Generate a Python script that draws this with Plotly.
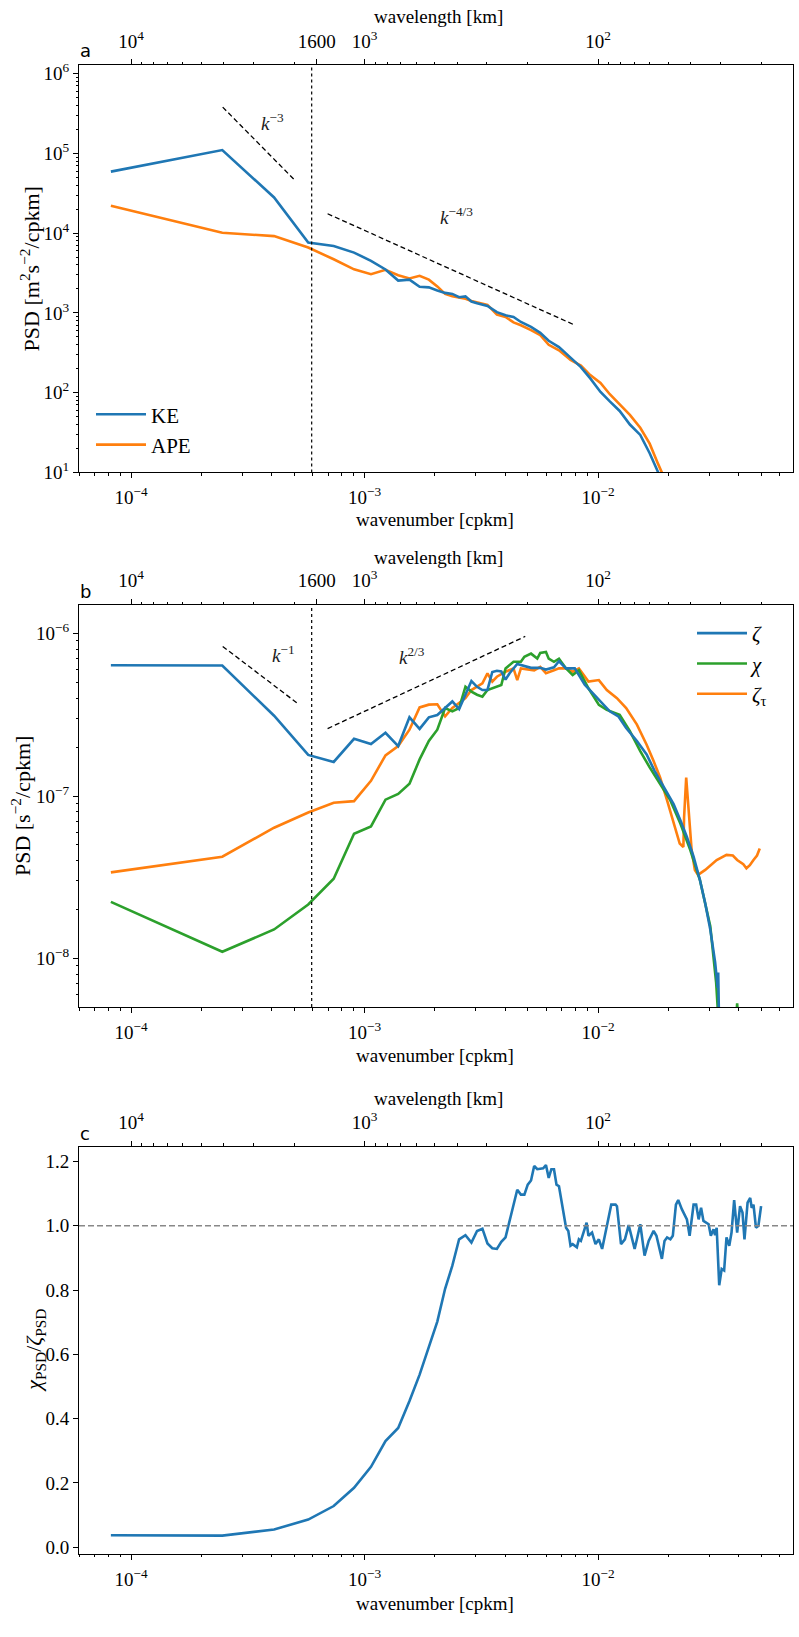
import plotly.graph_objects as go

# ---------------- data ----------------
# panel a : KE / APE spectra
k_a = [8.2e-5, 2.46e-4, 4.10e-4, 5.74e-4, 7.38e-4, 9.02e-4, 1.066e-3, 1.230e-3, 1.394e-3,
       1.558e-3, 1.722e-3, 1.886e-3, 2.050e-3, 2.214e-3, 2.378e-3, 2.542e-3, 2.706e-3,
       2.870e-3, 3.034e-3, 3.362e-3, 3.690e-3, 4.018e-3, 4.346e-3, 4.674e-3, 5.166e-3,
       5.658e-3, 6.150e-3, 6.806e-3, 7.626e-3, 8.446e-3, 9.266e-3, 1.025e-2, 1.1234e-2,
       1.2382e-2, 1.3694e-2, 1.517e-2, 1.6646e-2, 1.8122e-2, 1.9762e-2]
ke_a = [5.9e4, 1.1e5, 2.8e4, 7.6e3, 6.9e3, 5.7e3, 4.5e3, 3.5e3, 2.54e3, 2.61e3, 2.13e3,
        2.09e3, 1.91e3, 1.78e3, 1.73e3, 1.57e3, 1.61e3, 1.39e3, 1.32e3, 1.22e3, 1.02e3,
        933, 887, 769, 667, 562, 447, 372, 275, 209, 151, 102, 77.6, 58.9, 39.8, 29.5,
        17.4, 10.0, 5.6]
ape_a = [2.2e4, 1.01e4, 9.18e3, 6.6e3, 4.7e3, 3.52e3, 3.06e3, 3.47e3, 2.97e3, 2.7e3,
         2.92e3, 2.61e3, 2.15e3, 1.73e3, 1.62e3, 1.57e3, 1.5e3, 1.41e3, 1.36e3, 1.26e3,
         955, 891, 759, 700, 607, 525, 398, 339, 257, 219, 166, 132, 95.5, 70.8, 52.5,
         36.3, 22.9, 12.6, 7.1]

# panel b : zeta, chi, zeta_tau spectra
k_zeta = [8.2e-5, 2.46e-4, 4.10e-4, 5.74e-4, 7.38e-4, 9.02e-4, 1.066e-3, 1.230e-3, 1.394e-3,
          1.558e-3, 1.722e-3, 1.886e-3, 2.050e-3, 2.214e-3, 2.378e-3, 2.542e-3, 2.706e-3,
          2.870e-3, 3.034e-3, 3.198e-3, 3.362e-3, 3.526e-3, 3.690e-3, 3.854e-3, 4.018e-3,
          4.182e-3, 4.510e-3, 4.838e-3, 5.166e-3, 5.658e-3, 5.986e-3, 6.478e-3, 6.806e-3,
          7.298e-3, 7.954e-3, 8.774e-3, 1.0086e-2, 1.1234e-2, 1.2218e-2, 1.3202e-2,
          1.4678e-2, 1.6154e-2, 1.7466e-2, 1.9106e-2, 2.1074e-2, 2.2550e-2, 2.4026e-2,
          2.5666e-2, 2.7306e-2, 2.8782e-2, 3.0258e-2, 3.1734e-2, 3.2554e-2, 3.2718e-2,
          3.2882e-2, 3.3046e-2]
zeta_b = [6.38e-7, 6.35e-7, 3.12e-7, 1.79e-7, 1.62e-7, 2.25e-7, 2.09e-7, 2.45e-7, 2.03e-7,
          3.05e-7, 2.59e-7, 3.05e-7, 3.15e-7, 3.5e-7, 3.82e-7, 3.43e-7, 4.2e-7, 5.1e-7,
          4.7e-7, 4.49e-7, 4.5e-7, 5.8e-7, 5.9e-7, 5.85e-7, 5.2e-7, 5.7e-7, 6.5e-7, 6.3e-7,
          6.15e-7, 6.15e-7, 6.0e-7, 6.2e-7, 6.75e-7, 6.1e-7, 6.1e-7, 4.85e-7, 3.9e-7,
          3.32e-7, 3.09e-7, 2.62e-7, 2.18e-7, 1.8e-7, 1.43e-7, 1.13e-7, 8.93e-8, 7.08e-8,
          5.6e-8, 4.23e-8, 3.05e-8, 2.19e-8, 1.51e-8, 9.5e-9, 6.6e-9, 8.2e-9, 5.5e-9, 3.5e-9]

k_chi = [8.2e-5, 2.46e-4, 4.10e-4, 5.74e-4, 7.38e-4, 9.02e-4, 1.066e-3, 1.230e-3, 1.394e-3,
         1.558e-3, 1.722e-3, 1.886e-3, 2.050e-3, 2.214e-3, 2.378e-3, 2.542e-3, 2.706e-3,
         2.870e-3, 3.034e-3, 3.198e-3, 3.362e-3, 3.690e-3, 3.854e-3, 4.018e-3, 4.346e-3,
         4.674e-3, 4.838e-3, 5.166e-3, 5.494e-3, 5.658e-3, 5.986e-3, 6.150e-3, 6.478e-3,
         6.806e-3, 7.134e-3, 7.298e-3, 7.790e-3, 8.282e-3, 9.102e-3, 1.0086e-2, 1.0906e-2,
         1.2382e-2, 1.3694e-2, 1.517e-2, 1.6646e-2, 1.845e-2, 2.0418e-2, 2.255e-2,
         2.4846e-2, 2.7306e-2, 3.0258e-2, 3.2062e-2, 3.3046e-2, 3.7802e-2, 3.9442e-2,
         4.1082e-2]
chi_b = [2.23e-8, 1.10e-8, 1.51e-8, 2.15e-8, 3.1e-8, 5.86e-8, 6.5e-8, 9.5e-8, 1.03e-7,
         1.19e-7, 1.68e-7, 2.18e-7, 2.56e-7, 3.48e-7, 3.32e-7, 3.48e-7, 4.71e-7, 4.39e-7,
         4.2e-7, 4.09e-7, 4.49e-7, 4.7e-7, 4.82e-7, 6.1e-7, 6.7e-7, 6.7e-7, 7.2e-7, 7.52e-7,
         7.01e-7, 7.6e-7, 7.7e-7, 7.0e-7, 6.7e-7, 7.0e-7, 6.3e-7, 6.1e-7, 5.55e-7, 5.94e-7,
         4.6e-7, 3.64e-7, 3.39e-7, 3.16e-7, 2.51e-7, 1.89e-7, 1.5e-7, 1.18e-7, 9.4e-8,
         6.75e-8, 4.65e-8, 3.05e-8, 1.58e-8, 7.1e-9, 3.5e-9, 2.0e-9, 5.3e-9, 2.0e-9]

k_tau = [8.2e-5, 2.46e-4, 4.10e-4, 5.74e-4, 7.38e-4, 9.02e-4, 1.066e-3, 1.230e-3, 1.394e-3,
         1.558e-3, 1.722e-3, 1.886e-3, 2.050e-3, 2.214e-3, 2.378e-3, 2.542e-3, 2.706e-3,
         2.870e-3, 3.034e-3, 3.198e-3, 3.362e-3, 3.526e-3, 3.690e-3, 4.018e-3, 4.346e-3,
         4.510e-3, 4.674e-3, 5.002e-3, 5.330e-3, 5.658e-3, 5.986e-3, 6.478e-3, 6.806e-3,
         7.298e-3, 7.790e-3, 8.282e-3, 8.610e-3, 9.102e-3, 1.0086e-2, 1.0906e-2, 1.2054e-2,
         1.3202e-2, 1.4678e-2, 1.6154e-2, 1.7302e-2, 1.845e-2, 1.9762e-2, 2.1074e-2,
         2.2386e-2, 2.3206e-2, 2.337e-2, 2.3862e-2, 2.419e-2, 2.4682e-2, 2.5174e-2,
         2.5994e-2, 2.6814e-2, 2.8782e-2, 3.2226e-2, 3.5506e-2, 3.7802e-2, 3.9442e-2,
         4.1902e-2, 4.3214e-2, 4.469e-2, 4.633e-2, 4.797e-2, 4.9282e-2]
tau_b = [3.39e-8, 4.23e-8, 6.38e-8, 7.92e-8, 9.1e-8, 9.3e-8, 1.24e-7, 1.78e-7, 2.03e-7,
         2.56e-7, 3.51e-7, 3.65e-7, 3.67e-7, 3.09e-7, 3.48e-7, 3.75e-7, 4.0e-7, 4.49e-7,
         4.7e-7, 4.93e-7, 5.68e-7, 5.06e-7, 5.42e-7, 5.82e-7, 6.1e-7, 5.17e-7, 6.1e-7,
         6.0e-7, 5.94e-7, 6.24e-7, 5.7e-7, 5.94e-7, 6.1e-7, 6.1e-7, 5.82e-7, 6.1e-7,
         5.68e-7, 5.06e-7, 5.17e-7, 4.49e-7, 4.0e-7, 3.48e-7, 2.75e-7, 2.07e-7, 1.64e-7,
         1.3e-7, 9.4e-8, 6.75e-8, 5.1e-8, 4.86e-8, 7.4e-8, 1.3e-7, 1.03e-7, 6.75e-8,
         4.65e-8, 3.51e-8, 3.27e-8, 3.51e-8, 4.04e-8, 4.34e-8, 4.3e-8, 4.04e-8, 3.8e-8,
         3.59e-8, 3.75e-8, 4.04e-8, 4.3e-8, 4.75e-8]

# panel c : ratio chi_PSD / zeta_PSD
k_c = [8.2e-5, 2.46e-4, 4.10e-4, 5.74e-4, 7.38e-4, 9.02e-4, 1.066e-3, 1.230e-3, 1.394e-3,
       1.558e-3, 1.722e-3, 1.886e-3, 2.050e-3, 2.214e-3, 2.378e-3, 2.542e-3, 2.706e-3,
       2.870e-3, 3.034e-3, 3.198e-3, 3.362e-3, 3.526e-3, 3.690e-3, 3.854e-3, 4.018e-3,
       4.510e-3, 4.674e-3, 4.838e-3, 5.002e-3, 5.166e-3, 5.330e-3, 5.494e-3, 5.822e-3,
       5.986e-3, 6.150e-3, 6.314e-3, 6.478e-3, 6.642e-3, 6.806e-3, 7.298e-3, 7.462e-3,
       7.626e-3, 7.790e-3, 8.118e-3, 8.282e-3, 8.446e-3, 8.938e-3, 9.102e-3, 9.430e-3,
       9.758e-3, 1.0086e-2, 1.0414e-2, 1.0906e-2, 1.1398e-2, 1.189e-2, 1.2054e-2,
       1.2546e-2, 1.3038e-2, 1.353e-2, 1.3858e-2, 1.435e-2, 1.4678e-2, 1.517e-2,
       1.5826e-2, 1.6482e-2, 1.7302e-2, 1.7794e-2, 1.8778e-2, 1.927e-2, 1.9762e-2,
       2.0418e-2, 2.091e-2, 2.1566e-2, 2.2058e-2, 2.2878e-2, 2.4026e-2, 2.4682e-2,
       2.5666e-2, 2.6322e-2, 2.6978e-2, 2.7634e-2, 2.829e-2, 2.9766e-2, 3.0422e-2,
       3.1242e-2, 3.1734e-2, 3.2226e-2, 3.3046e-2, 3.3866e-2, 3.4686e-2, 3.5506e-2,
       3.649e-2, 3.731e-2, 3.8294e-2, 3.9442e-2, 4.059e-2, 4.1574e-2, 4.2394e-2,
       4.371e-2, 4.4858e-2, 4.5514e-2, 4.6334e-2, 4.7482e-2, 4.863e-2, 4.9938e-2]
ratio_c = [0.037, 0.036, 0.055, 0.086, 0.128, 0.185, 0.25, 0.33, 0.371, 0.455, 0.537,
           0.625, 0.702, 0.804, 0.876, 0.958, 0.971, 0.948, 0.984, 0.991, 0.945, 0.93,
           0.928, 0.95, 0.964, 1.112, 1.097, 1.097, 1.128, 1.141, 1.186, 1.176, 1.179,
           1.189, 1.149, 1.176, 1.176, 1.128, 1.123, 0.994, 0.984, 0.938, 0.943, 0.933,
           0.958, 0.953, 1.01, 0.969, 0.979, 0.943, 0.958, 0.928, 1.0, 1.066, 1.066,
           1.061, 0.943, 0.958, 1.002, 0.969, 0.928, 0.958, 1.005, 0.907, 0.953, 0.984,
           0.969, 0.897, 0.953, 0.964, 0.958, 0.969, 1.066, 1.08, 1.051, 1.02, 0.969,
           1.066, 1.066, 1.02, 1.056, 1.015, 1.005, 0.969, 0.989, 0.971, 0.994, 0.815,
           0.866, 0.861, 0.964, 0.938, 0.979, 1.08, 0.979, 1.061, 1.041, 0.958, 1.072,
           1.087, 1.056, 1.066, 0.994, 1.0, 1.061]

# reference power-law lines (end points)
pl_m3_k, pl_m3_v = [2.47e-4, 5.07e-4], [3.8e5, 4.5e4]
pl_m43_k, pl_m43_v = [6.95e-4, 7.97e-3], [1.75e4, 7.0e2]
pl_m1_k, pl_m1_v = [2.47e-4, 5.15e-4], [8.33e-7, 3.73e-7]
pl_23_k, pl_23_v = [6.95e-4, 4.88e-3], [2.6e-7, 9.6e-7]

k_div = 5.94e-4          # dotted separation line (labelled 1600 km)
ratio_ref = 1.0

# axis limits
xlog_range = [-4.2227, -1.1649]
ya_log_range = [1.0, 6.103]
yb_log_range = [-8.299, -5.825]
yc_range = [-0.0203, 1.246]

# tick labels
xb_tickvals = [1e-4, 1e-3, 1e-2]
xb_ticktext = ["10<sup>−4</sup>", "10<sup>−3</sup>", "10<sup>−2</sup>"]
wl_major = [1e4, 1600, 1e3, 1e2]
wl_major_text = ["10<sup>4</sup>", "1600", "10<sup>3</sup>", "10<sup>2</sup>"]
wl_major_c = [1e4, 1e3, 1e2]
wl_major_c_text = ["10<sup>4</sup>", "10<sup>3</sup>", "10<sup>2</sup>"]
wl_minor = [9000, 8000, 7000, 6000, 5000, 4000, 3000, 2000,
            900, 800, 700, 600, 500, 400, 300, 200,
            90, 80, 70, 60, 50, 40, 30, 20]
ya_tickvals = [1e1, 1e2, 1e3, 1e4, 1e5, 1e6]
ya_ticktext = ["10<sup>1</sup>", "10<sup>2</sup>", "10<sup>3</sup>", "10<sup>4</sup>",
               "10<sup>5</sup>", "10<sup>6</sup>"]
yb_tickvals = [1e-8, 1e-7, 1e-6]
yb_ticktext = ["10<sup>−8</sup>", "10<sup>−7</sup>", "10<sup>−6</sup>"]
yc_tickvals = [0.0, 0.2, 0.4, 0.6, 0.8, 1.0, 1.2]
yc_ticktext = ["0.0", "0.2", "0.4", "0.6", "0.8", "1.0", "1.2"]

# ---------------- style / layout ----------------
BLUE, ORANGE, GREEN = "#1f77b4", "#ff7f0e", "#2ca02c"
SERIF = "Liberation Serif"
W, H = 799, 1637
XL, XR = 79, 793
PAN = {"a": (61, 472), "b": (606, 1012), "c": (1153, 1564)}
LW = 2.6


def ydom(p):
    t, b = PAN[p]
    return [1 - b / H, 1 - t / H]


def px(x):
    return x / W


def py(y):
    return 1 - y / H


def log_minor(e0, e1):
    return [m * 10.0 ** e for e in range(e0, e1 + 1) for m in range(2, 10)]


tickfont = dict(family=SERIF, size=19, color="black")
common = dict(showgrid=False, zeroline=False, showline=True, linecolor="black",
              linewidth=1, ticks="outside", ticklen=5, tickwidth=1, tickcolor="black",
              tickfont=tickfont)


def minor_spec(vals):
    return dict(ticks="outside", ticklen=2.5, tickwidth=0.8, tickcolor="black",
                tickmode="array", tickvals=vals, showgrid=False)


fig = go.Figure()

# ---- panel a ----
fig.add_trace(go.Scatter(x=k_a, y=ape_a, mode="lines", name="APE",
                         line=dict(color=ORANGE, width=LW), xaxis="x", yaxis="y",
                         legend="legend", legendrank=2))
fig.add_trace(go.Scatter(x=k_a, y=ke_a, mode="lines", name="KE",
                         line=dict(color=BLUE, width=LW), xaxis="x", yaxis="y",
                         legend="legend", legendrank=1))
for kk, vv in [(pl_m3_k, pl_m3_v), (pl_m43_k, pl_m43_v)]:
    fig.add_trace(go.Scatter(x=kk, y=vv, mode="lines", showlegend=False,
                             line=dict(color="black", width=1.3, dash="5px,3px"),
                             xaxis="x", yaxis="y"))
fig.add_trace(go.Scatter(x=[k_div, k_div], y=[10 ** ya_log_range[0], 10 ** ya_log_range[1]],
                         mode="lines", showlegend=False,
                         line=dict(color="black", width=1.2, dash="dot"),
                         xaxis="x4", yaxis="y"))

# ---- panel b ----
fig.add_trace(go.Scatter(x=k_tau, y=tau_b, mode="lines", name="<i>ζ</i><sub>τ</sub>",
                         line=dict(color=ORANGE, width=LW), xaxis="x2", yaxis="y2",
                         legend="legend2", legendrank=3))
fig.add_trace(go.Scatter(x=k_chi, y=chi_b, mode="lines", name="<i>χ</i>",
                         line=dict(color=GREEN, width=LW), xaxis="x2", yaxis="y2",
                         legend="legend2", legendrank=2))
fig.add_trace(go.Scatter(x=k_zeta, y=zeta_b, mode="lines", name="<i>ζ</i>",
                         line=dict(color=BLUE, width=LW), xaxis="x2", yaxis="y2",
                         legend="legend2", legendrank=1))
for kk, vv in [(pl_m1_k, pl_m1_v), (pl_23_k, pl_23_v)]:
    fig.add_trace(go.Scatter(x=kk, y=vv, mode="lines", showlegend=False,
                             line=dict(color="black", width=1.3, dash="5px,3px"),
                             xaxis="x2", yaxis="y2"))
fig.add_trace(go.Scatter(x=[k_div, k_div], y=[10 ** yb_log_range[0], 10 ** yb_log_range[1]],
                         mode="lines", showlegend=False,
                         line=dict(color="black", width=1.2, dash="dot"),
                         xaxis="x5", yaxis="y2"))

# ---- panel c ----
fig.add_trace(go.Scatter(x=[10 ** xlog_range[0], 10 ** xlog_range[1]], y=[ratio_ref, ratio_ref],
                         mode="lines", showlegend=False,
                         line=dict(color="#888888", width=1.4, dash="6px,3px"),
                         xaxis="x6", yaxis="y3"))
fig.add_trace(go.Scatter(x=k_c, y=ratio_c, mode="lines", showlegend=False,
                         line=dict(color=BLUE, width=LW), xaxis="x3", yaxis="y3"))

xdom = [XL / W, XR / W]
layout = dict(width=W, height=H, margin=dict(l=0, r=0, t=0, b=0),
              plot_bgcolor="white", paper_bgcolor="white",
              font=dict(family=SERIF, size=18, color="black"))

for i, (p, ya) in enumerate([("a", "y"), ("b", "y2"), ("c", "y3")]):
    bottom = "xaxis" if i == 0 else "xaxis%d" % (i + 1)
    top = "xaxis%d" % (i + 4)
    xname = "x" if i == 0 else "x%d" % (i + 1)
    layout[bottom] = dict(common, type="log", range=xlog_range, domain=xdom, anchor=ya,
                          tickmode="array", tickvals=xb_tickvals, ticktext=xb_ticktext,
                          minor=minor_spec(log_minor(-5, -2)), ticklabelstandoff=3)
    wl = wl_major_c if p == "c" else wl_major
    wlt = wl_major_c_text if p == "c" else wl_major_text
    layout[top] = dict(common, type="log", range=xlog_range, overlaying=xname, anchor=ya,
                       side="top", tickmode="array", tickvals=[1.0 / w for w in wl],
                       ticktext=wlt, minor=minor_spec([1.0 / w for w in wl_minor]),
                       ticklabelstandoff=4)

layout["yaxis"] = dict(common, type="log", range=ya_log_range, domain=ydom("a"), anchor="x",
                       mirror=True, tickmode="array", tickvals=ya_tickvals,
                       ticktext=ya_ticktext, minor=minor_spec(log_minor(1, 6)))
layout["yaxis2"] = dict(common, type="log", range=yb_log_range, domain=ydom("b"), anchor="x2",
                        mirror=True, tickmode="array", tickvals=yb_tickvals,
                        ticktext=yb_ticktext, minor=minor_spec(log_minor(-9, -6)))
layout["yaxis3"] = dict(common, type="linear", range=yc_range, domain=ydom("c"), anchor="x3",
                        mirror=True, tickmode="array", tickvals=yc_tickvals,
                        ticktext=yc_ticktext)

legfont = dict(family=SERIF, size=21, color="black")
layout["legend"] = dict(x=px(91), y=py(393), xanchor="left", yanchor="top",
                        bgcolor="rgba(0,0,0,0)", font=legfont, traceorder="normal",
                        tracegroupgap=0, itemwidth=50)
layout["legend2"] = dict(x=px(692), y=py(614), xanchor="left", yanchor="top",
                         bgcolor="rgba(0,0,0,0)", font=legfont, traceorder="normal",
                         tracegroupgap=0, itemwidth=50)

ann = []
titlefont = dict(family=SERIF, size=19, color="black")
ytitlefont = dict(family=SERIF, size=22, color="black")
title_pos = [(12, 520), (558, 1061), (1104, 1614)]
for top_y, bot_y in title_pos:
    ann.append(dict(text="wavelength [km]", x=px(438), y=py(top_y), xref="paper", yref="paper",
                    showarrow=False, font=titlefont, xanchor="center", yanchor="middle"))
    ann.append(dict(text="wavenumber [cpkm]", x=px(435), y=py(bot_y), xref="paper",
                    yref="paper", showarrow=False, font=titlefont, xanchor="center",
                    yanchor="middle"))
# y titles
ann.append(dict(text="PSD [m<sup>2</sup>s<sup>−2</sup>/cpkm]", x=px(30), y=py(267),
                xref="paper", yref="paper", showarrow=False, textangle=-90, font=ytitlefont,
                xanchor="center", yanchor="middle"))
ann.append(dict(text="PSD [s<sup>−2</sup>/cpkm]", x=px(21), y=py(809),
                xref="paper", yref="paper", showarrow=False, textangle=-90, font=ytitlefont,
                xanchor="center", yanchor="middle"))
ann.append(dict(text="<i>χ</i><sub>PSD</sub>/<i>ζ</i><sub>PSD</sub>", x=px(35), y=py(1359),
                xref="paper", yref="paper", showarrow=False, textangle=-90, font=ytitlefont,
                xanchor="center", yanchor="middle"))
# panel letters
for letter, yy in [("a", 46), ("b", 592), ("c", 1140)]:
    ann.append(dict(text=letter, x=px(78), y=py(yy), xref="paper", yref="paper",
                    showarrow=False, xanchor="left", yanchor="middle",
                    font=dict(family="DejaVu Sans", size=18, color="black")))
# power-law labels (log10 coordinates on log axes)
plfont = dict(family=SERIF, size=19, color="#222222")
ann.append(dict(text="<i>k</i><sup>−3</sup>", x=-3.392, y=5.395, xref="x", yref="y",
                showarrow=False, font=plfont))
ann.append(dict(text="<i>k</i><sup>−4/3</sup>", x=-2.604, y=4.215, xref="x", yref="y",
                showarrow=False, font=plfont))
ann.append(dict(text="<i>k</i><sup>−1</sup>", x=-3.349, y=-6.124, xref="x2", yref="y2",
                showarrow=False, font=plfont))
ann.append(dict(text="<i>k</i><sup>2/3</sup>", x=-2.797, y=-6.136, xref="x2", yref="y2",
                showarrow=False, font=plfont))
layout["annotations"] = ann

fig.update_layout(**layout)
fig.write_html("out.html")
